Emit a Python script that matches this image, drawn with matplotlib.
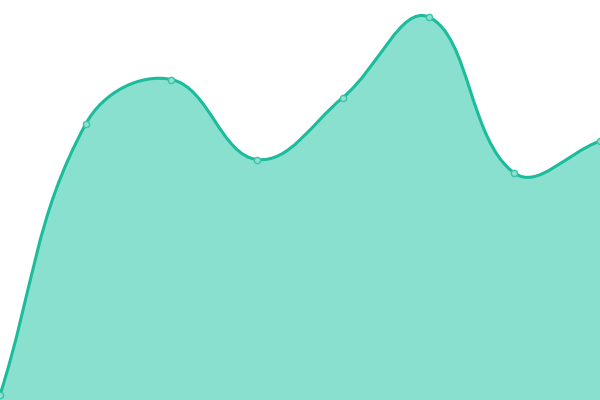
import numpy as np
import matplotlib
matplotlib.use("Agg")
import matplotlib.pyplot as plt
from matplotlib.path import Path
from matplotlib.patches import PathPatch

labels = ["1", "2", "3", "4", "5", "6", "7", "8"]
values = [5, 276, 320.5, 240.5, 302.5, 383, 227, 259]

W, H = 600, 400
fig = plt.figure(figsize=(6, 4), dpi=100)
ax = fig.add_axes([0, 0, 1, 1])
n = len(values)
ax.set_xlim(0, n - 1)
ax.set_ylim(0, 400)
ax.axis("off")

xs = np.arange(n, dtype=float)
ys = np.array(values, dtype=float)
# pixel coordinates for Chart.js-style spline control points
px = xs * W / (n - 1)
py = ys * H / 400.0
t = 0.4
cps = []
for i in range(n):
    prv = (px[max(i - 1, 0)], py[max(i - 1, 0)])
    cur = (px[i], py[i])
    nxt = (px[min(i + 1, n - 1)], py[min(i + 1, n - 1)])
    d01 = np.hypot(cur[0] - prv[0], cur[1] - prv[1])
    d12 = np.hypot(nxt[0] - cur[0], nxt[1] - cur[1])
    tot = d01 + d12
    s01 = d01 / tot if tot else 0
    s12 = d12 / tot if tot else 0
    fa, fb = t * s01, t * s12
    cp1 = (cur[0] - fa * (nxt[0] - prv[0]), cur[1] - fa * (nxt[1] - prv[1]))
    cp2 = (cur[0] + fb * (nxt[0] - prv[0]), cur[1] + fb * (nxt[1] - prv[1]))
    cp1 = (min(max(cp1[0], 0), W), min(max(cp1[1], 0), H))
    cp2 = (min(max(cp2[0], 0), W), min(max(cp2[1], 0), H))
    cps.append((cp1, cp2))

def to_data(p):
    return (p[0] * (n - 1) / W, p[1] * 400.0 / H)

verts = [to_data((px[0], py[0]))]
codes = [Path.MOVETO]
for i in range(n - 1):
    verts += [to_data(cps[i][1]), to_data(cps[i + 1][0]), to_data((px[i + 1], py[i + 1]))]
    codes += [Path.CURVE4] * 3

line_path = Path(verts, codes)
fill_verts = verts + [(xs[-1], 0), (xs[0], 0), verts[0]]
fill_codes = codes + [Path.LINETO, Path.LINETO, Path.CLOSEPOLY]
ax.add_patch(PathPatch(Path(fill_verts, fill_codes), facecolor="#89e0cf",
                       edgecolor="none"))
ax.add_patch(PathPatch(line_path, facecolor="none", edgecolor="#1abc9c", lw=2.2,
                       capstyle="round", joinstyle="round"))
ax.plot(xs, ys, "o", ms=4.5, mfc="#8ee0d0", mec="#3cc4a8", mew=1.0, clip_on=False)

fig.savefig("out.png", dpi=100)
